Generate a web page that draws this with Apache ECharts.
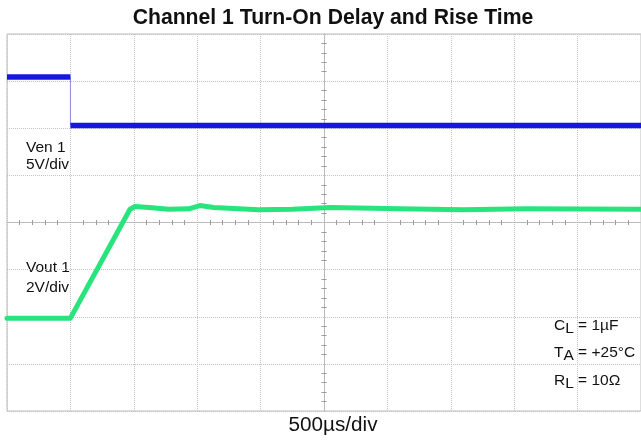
<!DOCTYPE html>
<html>
<head>
<meta charset="utf-8">
<script src="https://cdn.jsdelivr.net/npm/echarts@6/dist/echarts.min.js"></script>
<style>
html,body{margin:0;padding:0;background:#fff;}
#chart{width:641px;height:440px;}
</style>
</head>
<body>
<div id="chart"></div>
<script>
// Time axis in scope divisions (500 µs/div), centred on the screen
const timeMin = -5, timeMax = 5;
const levelMin = -4, levelMax = 4;

// Ven 1 (5V/div) trace, in divisions
const venTime  = [-5, -4, -4, 5];
const venLevel = [3.09, 3.09, 2.06, 2.06];

// Vout 1 (2V/div) trace, in divisions
const voutTime  = [-5, -4, -3.06, -2.98, -2.76, -2.45, -2.13, -1.96, -1.74, -1.03, -0.5, 0.1, 1.2, 2.2, 3.2, 5];
const voutLevel = [-2.03, -2.03, 0.28, 0.34, 0.32, 0.28, 0.29, 0.36, 0.32, 0.27, 0.28, 0.32, 0.29, 0.27, 0.29, 0.28];

const pts = (xs, ys, a, b) => xs.slice(a, b).map((x, i) => [x, ys[a + i]]);

const chart = echarts.init(document.getElementById('chart'), null, {renderer: 'canvas'});
const gridColor = '#c4c4c4';
const FF = '"Liberation Sans", Arial, sans-serif';
const txt = {fontFamily: FF, fill: '#111'};

function axisCommon(pos) {
  return {
    type: 'value', position: pos,
    axisLabel: {show: false},
    axisTick: {show: false},
    axisLine: {show: true, onZero: true, lineStyle: {color: '#b8b8b8', type: 'dotted', width: 1}},
    minorTick: {show: true, splitNumber: 5, length: 2.5, lineStyle: {color: '#9a9a9a', width: 1}},
    splitLine: {show: false},
    minorSplitLine: {show: false}
  };
}

const sub = (main, s, rest) => ({
  text: '{m|' + main + '}{s|' + s + '}{m|' + rest + '}',
  rich: {
    m: {fontSize: 15.5, lineHeight: 22, verticalAlign: 'middle', fontFamily: FF, fill: '#111'},
    s: {fontSize: 15.5, lineHeight: 15, verticalAlign: 'bottom', fontFamily: FF, fill: '#111'}
  }
});

chart.setOption({
  animation: false,
  backgroundColor: '#fff',
  grid: {left: 7, top: 34, width: 638, height: 377, show: true, borderColor: '#bdbdbd', borderWidth: 1, backgroundColor: 'transparent'},
  xAxis: [
    Object.assign(axisCommon('bottom'), {min: timeMin, max: timeMax, interval: 1,
      splitLine: {show: true, lineStyle: {color: gridColor, type: 'dotted', width: 1}}}),
    Object.assign(axisCommon('top'), {min: timeMin, max: timeMax, interval: 1})
  ],
  yAxis: [
    Object.assign(axisCommon('left'), {min: levelMin, max: levelMax, interval: 1,
      splitLine: {show: true, lineStyle: {color: gridColor, type: 'dotted', width: 1}}}),
    Object.assign(axisCommon('right'), {min: levelMin, max: levelMax, interval: 1})
  ],
  series: [
    {type: 'line', name: 'Ven 1 high', data: pts(venTime, venLevel, 0, 2), symbol: 'none',
      lineStyle: {color: '#1818dc', width: 5.5}, z: 5},
    {type: 'line', name: 'Ven 1 edge', data: pts(venTime, venLevel, 1, 3), symbol: 'none',
      lineStyle: {color: '#8c8ce6', width: 1}, z: 4},
    {type: 'line', name: 'Ven 1 low', data: pts(venTime, venLevel, 2, 4), symbol: 'none',
      lineStyle: {color: '#1818dc', width: 5.5}, z: 5},
    {type: 'line', name: 'Vout 1', data: pts(voutTime, voutLevel, 0, voutTime.length), symbol: 'none',
      lineStyle: {color: '#28e47c', width: 5, join: 'round', cap: 'round'}, z: 5}
  ],
  graphic: [
    {type: 'text', x: 333, y: 18.5, style: Object.assign({}, txt, {text: 'Channel 1 Turn-On Delay and Rise Time', fontSize: 21.2, fontWeight: 'bold', align: 'center', verticalAlign: 'middle'})},
    {type: 'text', x: 26, y: 148, style: Object.assign({}, txt, {text: 'Ven 1', fontSize: 15.5, verticalAlign: 'middle'})},
    {type: 'text', x: 26, y: 165, style: Object.assign({}, txt, {text: '5V/div', fontSize: 15.5, verticalAlign: 'middle'})},
    {type: 'text', x: 26, y: 268, style: Object.assign({}, txt, {text: 'Vout 1', fontSize: 15.5, verticalAlign: 'middle'})},
    {type: 'text', x: 26, y: 288, style: Object.assign({}, txt, {text: '2V/div', fontSize: 15.5, verticalAlign: 'middle'})},
    {type: 'text', x: 554, y: 326, style: Object.assign({}, sub('C', 'L', ' = 1µF'), {verticalAlign: 'middle'})},
    {type: 'text', x: 554, y: 353, style: Object.assign({}, sub('T', 'A', ' = +25°C'), {verticalAlign: 'middle'})},
    {type: 'text', x: 554, y: 381, style: Object.assign({}, sub('R', 'L', ' = 10Ω'), {verticalAlign: 'middle'})},
    {type: 'text', x: 333, y: 425, style: Object.assign({}, txt, {text: '500µs/div', fontSize: 20.7, align: 'center', verticalAlign: 'middle'})}
  ]
});
</script>
</body>
</html>
